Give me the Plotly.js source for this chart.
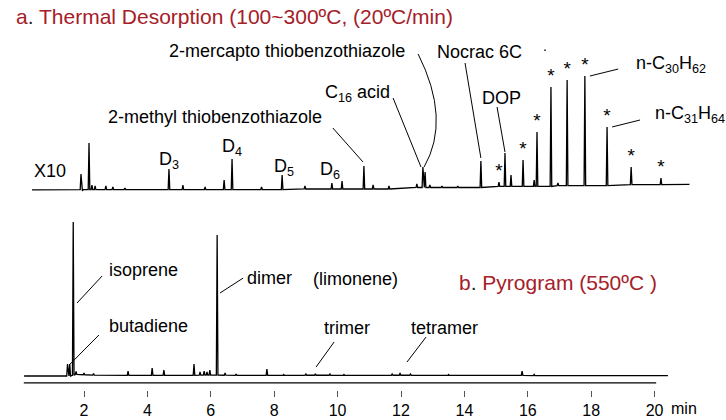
<!DOCTYPE html>
<html>
<head>
<meta charset="utf-8">
<script src="https://cdn.plot.ly/plotly-3.0.1.min.js"></script>
<style>html,body{margin:0;padding:0;background:#fff;}#chart{width:726px;height:420px;}</style>
</head>
<body>
<div id="chart"></div>
<script>
// ---- a. Thermal desorption chromatogram (X10), relative intensity (n-C30H62 = 100)
const tdStartEnd = [0.36, 21.1];
const tdStartEndLevel = [0.2, 5.0];
const tdPeakTimes   = [1.905, 1.95, 2.158, 2.25, 2.35, 2.69, 2.91, 3.29, 4.68, 5.12, 5.82, 6.42, 6.67, 7.6, 8.25, 8.97, 9.82, 10.14, 10.83, 11.12, 11.62, 12.5, 12.69, 12.76, 12.91, 13.29, 13.79, 14.52, 15.09, 15.28, 15.47, 15.85, 16.2, 16.29, 16.73, 16.95, 17.24, 17.8, 18.5, 19.26, 20.2];
const tdPeakHeights = [14.0, -0.9, 41.2, 4.4, 3.5, 3.5, 2.6, 1.8, 18.4, 4.4, 2.6, 8.8, 27.2, 2.6, 13.2, 3.5, 6.1, 7.9, 21.1, 4.4, 3.5, 5.3, 20.2, 15.8, 4.4, 3.5, 3.5, 25.4, 7.0, 32.5, 13.2, 26.3, 8.8, 50.9, 90.4, 6.1, 96.5, 100, 55.3, 20.2, 10.5];
const tdPeakBase    = [0.4, 0.4, 0.4, 0.4, 0.4, 0.4, 0.4, 0.4, 0.4, 0.4, 0.4, 0.4, 0.4, 0.4, 0.4, 0.9, 0.9, 0.9, 0.9, 0.9, 0.9, 2.2, 2.2, 2.2, 2.2, 2.2, 2.2, 2.2, 3.1, 3.1, 3.1, 3.1, 3.1, 3.1, 3.1, 3.9, 3.9, 3.9, 3.9, 4.8, 4.8];
const tdStarTimes   = [15.09, 15.85, 16.29, 16.73, 17.24, 17.8, 18.5, 19.26, 20.2];
const tdStarHeights = [7.0, 26.3, 50.9, 90.4, 96.5, 100, 55.3, 20.2, 10.5];

// ---- b. Pyrogram (550 C), relative intensity (isoprene = 100)
const pyStartEnd = [0.11, 20.42];
const pyStartEndLevel = [0, 0.3];
const pyPeakTimes   = [1.48, 1.55, 1.66, 1.75, 2.0, 2.3, 3.39, 4.15, 4.52, 5.47, 5.66, 5.79, 5.88, 5.97, 6.2, 6.45, 6.8, 7.77, 8.3, 9.0, 9.3, 9.76, 10.2, 11.72, 11.97, 12.3, 13.5, 15.82, 16.2];
const pyPeakHeights = [7.8, 7.8, 100, 3.0, 2.0, 1.5, 3.2, 5.2, 3.9, 7.8, 2.6, 3.2, 2.6, 3.9, 91.6, 1.9, 1.3, 4.5, 1.0, 1.3, 1.5, 1.3, 1.0, 1.3, 1.9, 1.3, 1.0, 3.2, 1.0];
const pyPeakBase    = [0, 0, 0.5, 1.0, 0.8, 0.6, 0.4, 0.4, 0.4, 0.4, 0.6, 0.6, 0.6, 0.6, 0.6, 0.5, 0.4, 0.4, 0.4, 0.5, 0.5, 0.5, 0.4, 0.5, 0.5, 0.5, 0.4, 0.4, 0.3];

// x axis ticks
const tickValues = [2, 4, 6, 8, 10, 12, 14, 16, 18, 20];
const tickLabels = ['2', '4', '6', '8', '10', '12', '14', '16', '18', '20'];

function buildTrace(startEnd, levels, times, heights, base) {
  const w = 0.025;
  const x = [startEnd[0]], y = [levels[0]];
  for (let i = 0; i < times.length; i++) {
    x.push(times[i] - w, times[i], times[i] + w);
    y.push(base[i], heights[i], base[i]);
  }
  x.push(startEnd[1]); y.push(levels[1]);
  return {x, y};
}

const td = buildTrace(tdStartEnd, tdStartEndLevel, tdPeakTimes, tdPeakHeights, tdPeakBase);
const py = buildTrace(pyStartEnd, pyStartEndLevel, pyPeakTimes, pyPeakHeights, pyPeakBase);

const FONT = 'Arial, "Liberation Sans", sans-serif';
const RED = 'rgb(165,32,40)';

const traces = [
  {x: td.x, y: td.y, xaxis: 'x', yaxis: 'y', mode: 'lines', line: {color: '#000', width: 1.3}, hoverinfo: 'skip', showlegend: false},
  {x: tdStarTimes, y: tdStarHeights, xaxis: 'x', yaxis: 'y', mode: 'text', text: tdStarTimes.map(() => '*'), textposition: 'top center', textfont: {family: FONT, size: 19, color: '#000'}, hoverinfo: 'skip', showlegend: false},
  {x: py.x, y: py.y, xaxis: 'x', yaxis: 'y2', mode: 'lines', line: {color: '#000', width: 1.3}, hoverinfo: 'skip', showlegend: false}
];

function lbl(text, x, y, yref, size, color) {
  return {text, x, y, xref: 'x', yref, xanchor: 'left', yanchor: 'middle', showarrow: false,
          font: {family: FONT, size: size || 18, color: color || '#000'}};
}
function seg(x0, y0, x1, y1, yref) {
  return {type: 'line', xref: 'x', yref, x0, y0, x1, y1, line: {color: '#000', width: 1}};
}

const annotations = [
  {text: 'a<span style="color:#222">.</span> Thermal Desorption (100~300ºC, (20ºC/min)', xref: 'paper', yref: 'paper', x: 14/726, y: 1 - 17/420, xanchor: 'left', yanchor: 'middle', showarrow: false, font: {family: FONT, size: 21, color: RED}},
  lbl('X10', 0.36, 16.7, 'y'),
  lbl('D<sub>3</sub>', 4.30, 26, 'y'),
  lbl('D<sub>4</sub>', 6.29, 37.5, 'y'),
  lbl('D<sub>5</sub>', 7.93, 20, 'y'),
  lbl('D<sub>6</sub>', 9.38, 17.3, 'y'),
  lbl('2-methyl thiobenzothiazole', 2.69, 64.0, 'y'),
  lbl('C<sub>16</sub> acid', 9.54, 85, 'y'),
  lbl('2-mercapto thiobenzothiazole', 4.62, 121.9, 'y'),
  lbl('Nocrac 6C', 13.07, 121.1, 'y'),
  lbl('DOP', 14.49, 80.7, 'y'),
  lbl('n-C<sub>30</sub>H<sub>62</sub>', 19.34, 110.5, 'y'),
  lbl('n-C<sub>31</sub>H<sub>64</sub>', 19.94, 66.6, 'y'),
  lbl('.', 16.42, 126, 'y', 14),
  lbl('isoprene', 2.73, 68.8, 'y2'),
  lbl('butadiene', 2.73, 32.5, 'y2'),
  lbl('dimer', 7.08, 63.6, 'y2'),
  lbl('(limonene)', 9.16, 63.0, 'y2'),
  lbl('trimer', 9.51, 31.2, 'y2'),
  lbl('tetramer', 12.25, 31.2, 'y2'),
  {text: 'b<span style="color:#222">.</span> Pyrogram (550ºC )', xref: 'x', yref: 'y2', x: 13.77, y: 60.4, xanchor: 'left', yanchor: 'middle', showarrow: false, font: {family: FONT, size: 21, color: RED}},
  {text: 'min', xref: 'x', yref: 'paper', x: 20.45, y: 1 - 408/420, xanchor: 'left', yanchor: 'middle', showarrow: false, font: {family: FONT, size: 16, color: '#000'}}
];

const shapes = [
  seg(9.85, 54.4, 10.80, 24.6, 'y'),
  seg(11.75, 80.7, 12.63, 20.2, 'y'),
  {type: 'path', xref: 'x', yref: 'y', path: 'M12.54,119.3 Q13.58,61.8 12.73,20.2', line: {color: '#000', width: 1}},
  seg(14.02, 111.4, 14.52, 28.1, 'y'),
  seg(15.03, 72.8, 15.28, 33.3, 'y'),
  seg(17.96, 100, 18.85, 106.1, 'y'),
  seg(18.66, 55.3, 19.54, 61.4, 'y'),
  seg(2.57, 64.9, 1.78, 47.4, 'y2'),
  seg(2.47, 26.6, 1.53, 7.1, 'y2'),
  seg(7.02, 63.6, 6.29, 53.9, 'y2'),
  seg(9.89, 22.1, 9.32, 5.8, 'y2'),
  seg(12.79, 25.3, 12.19, 9.1, 'y2'),
  // baseline axis line under the pyrogram
  {type: 'line', xref: 'x', yref: 'y2', x0: 0.1, x1: 20.05, y0: -4.5, y1: -4.5, line: {color: '#000', width: 1.3}}
];

const layout = {
  width: 726, height: 420,
  margin: {l: 0, r: 0, t: 0, b: 0},
  paper_bgcolor: '#fff', plot_bgcolor: '#fff',
  showlegend: false,
  xaxis: {range: [-0.650, 22.252], anchor: 'free', position: 1 - 390/420,
          showgrid: false, zeroline: false, showline: false,
          ticks: 'outside', ticklen: 6, tickwidth: 1, tickcolor: '#555',
          tickvals: tickValues, ticktext: tickLabels,
          tickfont: {family: FONT, size: 16, color: '#000'}},
  yaxis: {range: [-201.75, 166.67], domain: [0, 1], visible: false, fixedrange: true},
  yaxis2: {range: [-28.57, 244.16], domain: [0, 1], overlaying: 'y', visible: false, fixedrange: true},
  annotations, shapes
};

Plotly.newPlot('chart', traces, layout, {staticPlot: true, displayModeBar: false});
</script>
</body>
</html>
